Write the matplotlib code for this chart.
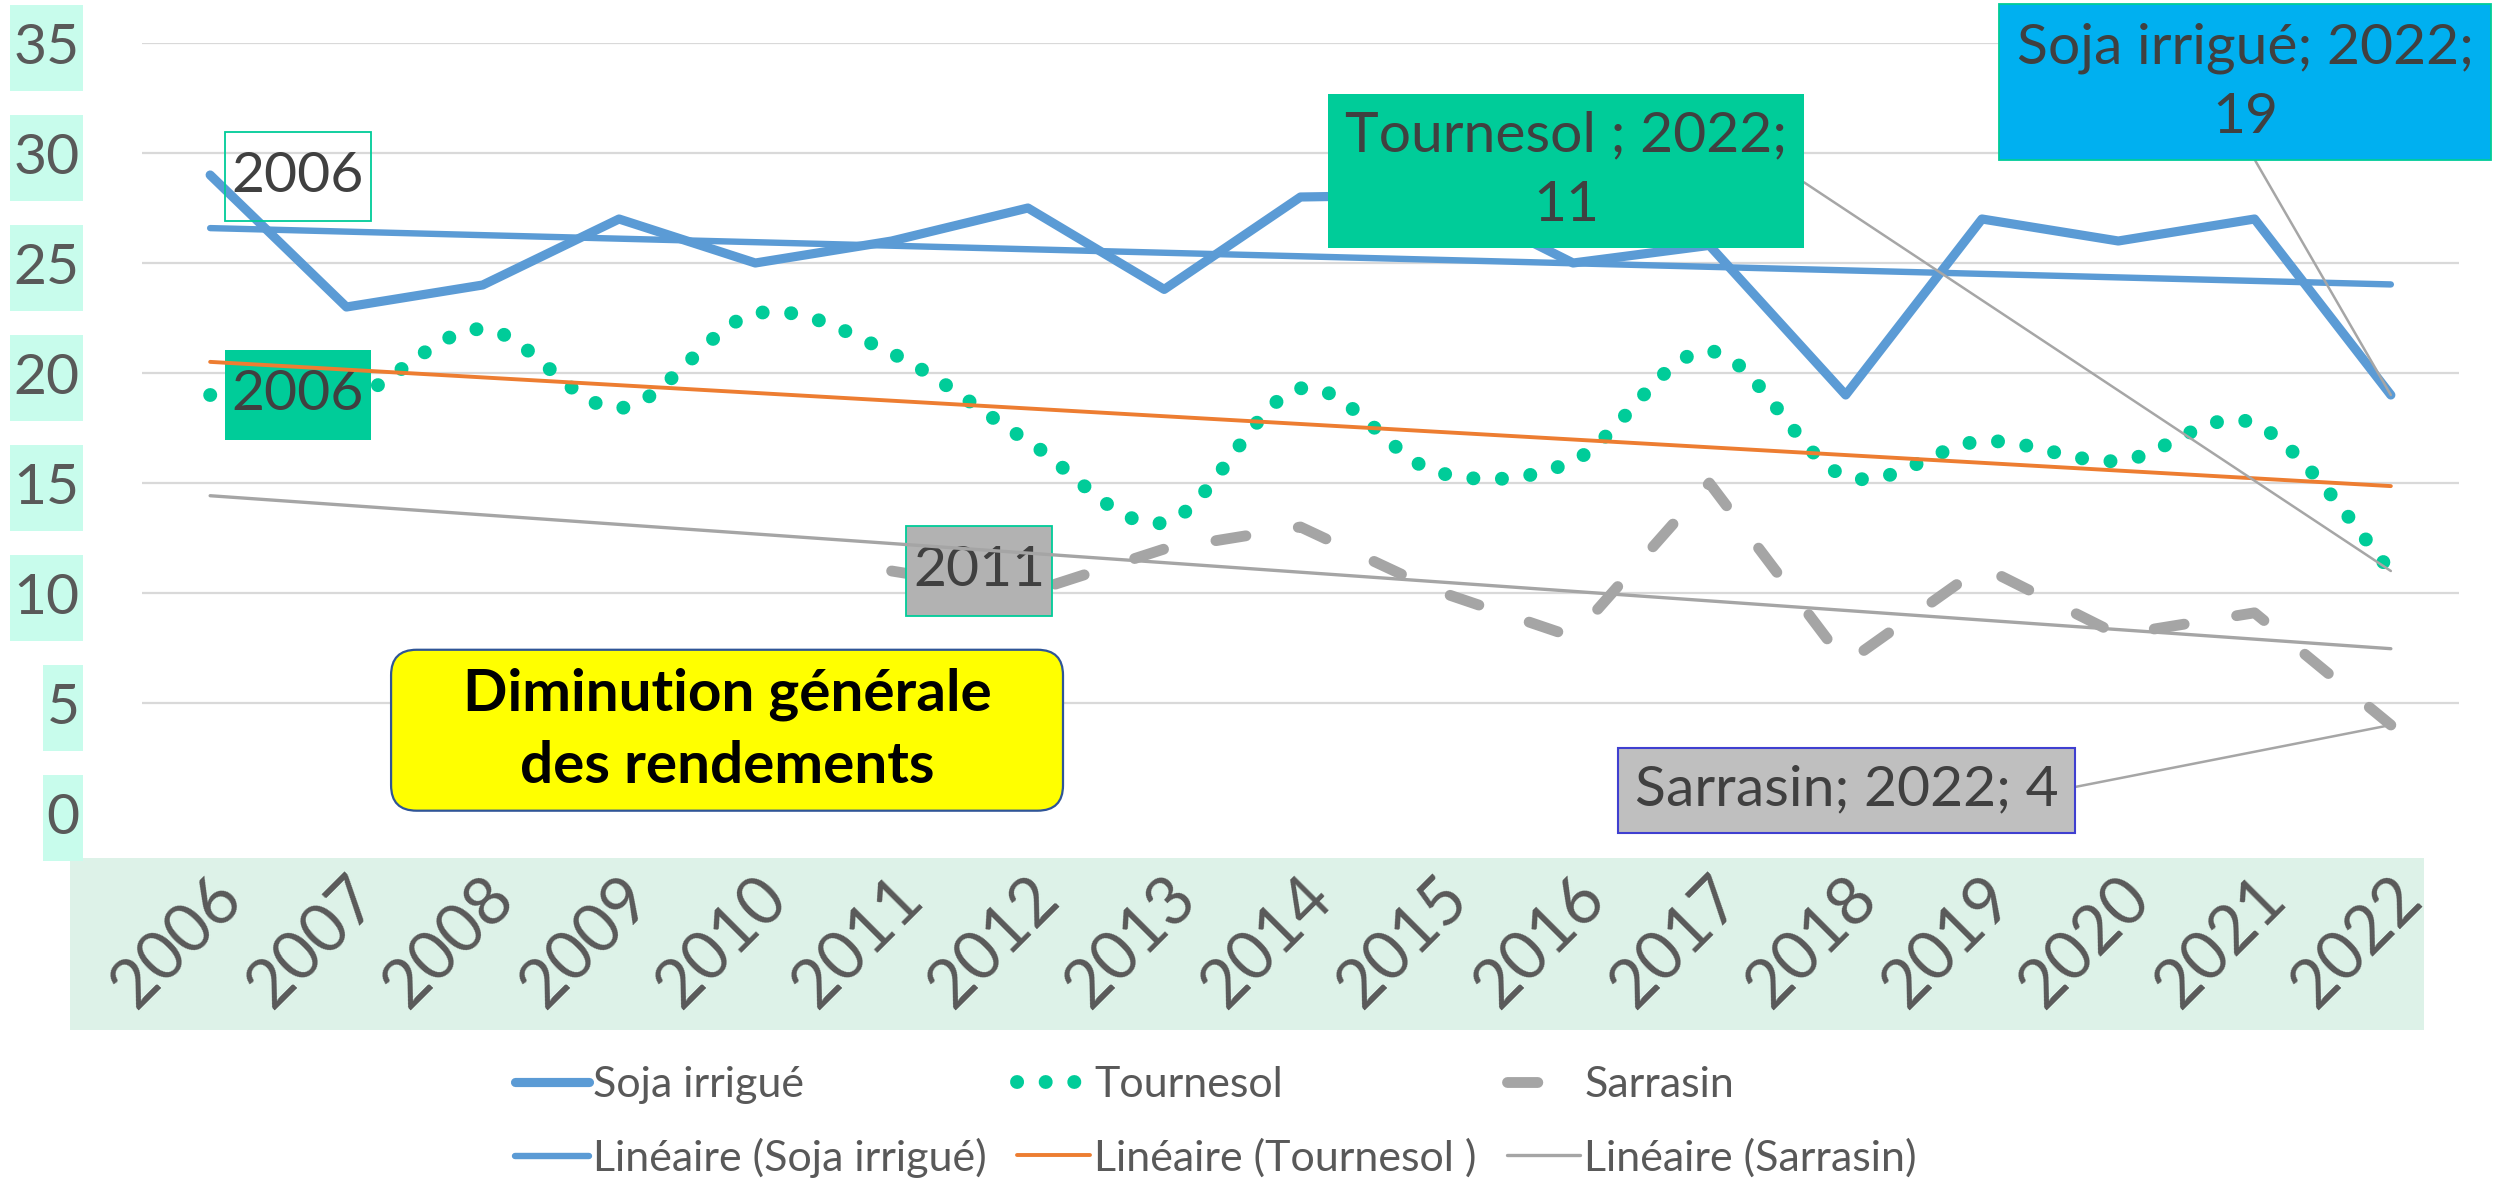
import numpy as np
import matplotlib
matplotlib.use("Agg")
import matplotlib.pyplot as plt
from matplotlib.lines import Line2D
from matplotlib.path import Path
from matplotlib.patches import PathPatch, Rectangle, FancyBboxPatch

plt.rcParams['font.family'] = ['Lato', 'DejaVu Sans']

# ---------------- data ---------------- #
years = [2006, 2007, 2008, 2009, 2010, 2011, 2012, 2013, 2014,
         2015, 2016, 2017, 2018, 2019, 2020, 2021, 2022]
soja = [29, 23, 24, 27, 25, 26, 27.5, 23.8, 28, 28.1, 25, 25.8, 19, 27, 26, 27, 19]
tournesol = [19, 18.8, 22, 18.4, 22.7, 20.9, 16.9, 13.2, 19.3, 15.5, 16, 21, 15.3, 16.9, 16, 17.7, 11]
sarrasin = [np.nan, np.nan, np.nan, np.nan, np.nan,
            11, 10, 12, 13, 10.1, 8, 15, 6.8, 11.2, 8.1, 9.1, 4]
names = ["Soja irrigué", "Tournesol ", "Sarrasin"]

# ---------------- colours ---------------- #
C_SOJA = "#5B9BD5"
C_TOURN = "#00CC99"
C_SARR = "#A5A5A5"
C_ORANGE = "#ED7D31"
C_TXT = "#404040"
C_TICK = "#595959"

W, H = 2509, 1182
fig = plt.figure(figsize=(W / 100, H / 100), dpi=100)
ax = fig.add_axes([142 / W, (H - 813) / H, 2317 / W, 770 / H])

x = np.arange(len(years))

# band behind the category labels
fig.patches.append(Rectangle((70 / W, 152 / H), 2354 / W, 172 / H,
                             transform=fig.transFigure, facecolor="#DDF2E8",
                             edgecolor="none", zorder=-1))

# ---------------- series ---------------- #
l_soja, = ax.plot(x, soja, color=C_SOJA, lw=6.6, solid_joinstyle="round",
                  solid_capstyle="round", zorder=2)

# smoothed dotted line (Excel-like bezier smoothing)
pts = np.column_stack([x, tournesol]).astype(float)
verts = [pts[0]]
codes = [Path.MOVETO]
n = len(pts)
for i in range(n - 1):
    p_prev = pts[i - 1] if i > 0 else pts[i]
    p_next = pts[i + 2] if i + 2 < n else pts[i + 1]
    verts += [pts[i] + (pts[i + 1] - p_prev) / 6,
              pts[i + 1] - (p_next - pts[i]) / 6,
              pts[i + 1]]
    codes += [Path.CURVE4] * 3
dots = (0, (0.01, 2.05))
ax.add_patch(PathPatch(Path(verts, codes), fill=False, edgecolor=C_TOURN,
                       lw=10, linestyle=dots, capstyle="round", zorder=2))
l_tourn = Line2D([], [], color=C_TOURN, lw=10, linestyle=dots,
                 dash_capstyle="round")

l_sarr, = ax.plot(x, sarrasin, color=C_SARR, lw=7.8, linestyle=(0, (2.8, 4.9)),
                  dash_capstyle="round", zorder=2)

# ---------------- trend lines ---------------- #
trend_handles = []
for vals, col, lw in [(soja, C_SOJA, 4.6), (tournesol, C_ORANGE, 2.8), (sarrasin, C_SARR, 2.4)]:
    v = np.asarray(vals, dtype=float)
    ok = ~np.isnan(v)
    k, b = np.polyfit(x[ok], v[ok], 1)
    xe = np.array([x[0], x[-1]])
    h, = ax.plot(xe, k * xe + b, color=col, lw=lw, solid_capstyle="round", zorder=4)
    trend_handles.append(h)

# ---------------- data labels ---------------- #
first_box = dict(fontsize=41, color=C_TXT, ha="center", va="center",
                 textcoords="offset points", zorder=3)
ax.annotate(str(years[0]), xy=(0, soja[0]), xytext=(63, -1),
            bbox=dict(boxstyle="square,pad=0.12", mutation_aspect=2.8,
                      fc="none", ec=C_TOURN, lw=1.3), **first_box)
ax.annotate(str(years[0]), xy=(0, tournesol[0]), xytext=(63, 0),
            bbox=dict(boxstyle="square,pad=0.12", mutation_aspect=2.8,
                      fc=C_TOURN, ec="none"), **first_box)
i0 = int(np.where(~np.isnan(sarrasin))[0][0])
ax.annotate(str(years[i0]), xy=(i0, sarrasin[i0]), xytext=(63, 0),
            bbox=dict(boxstyle="square,pad=0.12", mutation_aspect=2.8,
                      fc="#B2B2B2", ec=C_TOURN, lw=1.3), **first_box)

last = len(years) - 1
lead = dict(arrowstyle="-", color="#A6A6A6", lw=1.8, shrinkA=0, shrinkB=0)
ax.annotate(f"{names[0]}; {years[last]};\n{soja[last]:g}", xy=(last, soja[last]),
            xytext=(-105, 225), textcoords="offset points", ha="center", va="center",
            fontsize=41, color=C_TXT, zorder=5, annotation_clip=False, linespacing=1.45,
            bbox=dict(boxstyle="square,pad=0.3", fc="#00B0F0", ec=C_TOURN, lw=1.3),
            arrowprops=dict(relpos=(0.5, 0), **lead))
ax.annotate(f"{names[1]}; {years[last]};\n{tournesol[last]:g}", xy=(last, tournesol[last]),
            xytext=(-594, 288), textcoords="offset points", ha="center", va="center",
            fontsize=41, color=C_TXT, zorder=5, linespacing=1.45,
            bbox=dict(boxstyle="square,pad=0.3", fc=C_TOURN, ec="none"),
            arrowprops=dict(relpos=(1, 0.5), **lead))
ax.annotate(f"{names[2]}; {years[last]}; {sarrasin[last]:g}", xy=(last, sarrasin[last]),
            xytext=(-392, -47), textcoords="offset points", ha="center", va="center",
            fontsize=41, color=C_TXT, zorder=5, annotation_clip=False,
            bbox=dict(boxstyle="square,pad=0.3", fc="#BFBFBF", ec="#3F3FD0", lw=1.5),
            arrowprops=dict(relpos=(1, 0.5), **lead))

# ---------------- note box ---------------- #
ax.add_patch(FancyBboxPatch((0.1075, 0.003), 0.29, 0.209, transform=ax.transAxes,
                            boxstyle="round,pad=0,rounding_size=0.011",
                            mutation_aspect=3.0, facecolor="#FFFF00",
                            edgecolor="#2F5597", lw=1.6, zorder=6))
ax.text(0.1075 + 0.145, 0.003 + 0.1045, "Diminution générale\ndes rendements",
        transform=ax.transAxes, ha="center", va="center", fontsize=42, linespacing=1.45,
        fontweight="bold", color="black", zorder=7)

# ---------------- axes ---------------- #
ax.set_xlim(-0.5, len(years) - 0.5)
ax.set_ylim(0, 35)
ax.set_yticks(range(0, 36, 5))
ax.set_xticks(x)
ax.set_xticklabels([str(y) for y in years], rotation=45, ha="right",
                   rotation_mode="anchor", fontsize=48, color=C_TICK)
ax.tick_params(axis="x", length=0, pad=38)
ax.tick_params(axis="y", length=0, pad=45, labelsize=41, labelcolor=C_TICK)
for lab in ax.get_yticklabels():
    lab.set_bbox(dict(boxstyle="square,pad=0.06", mutation_aspect=5,
                      facecolor="#C8FCEC", edgecolor="none"))
ax.yaxis.grid(True, color="#D9D9D9", lw=1.6)
ax.get_ygridlines()[0].set_visible(False)
ax.set_axisbelow(True)
for s in ax.spines.values():
    s.set_visible(False)

# ---------------- legend ---------------- #
handles = [l_soja, trend_handles[0], l_tourn, trend_handles[1], l_sarr, trend_handles[2]]
labels = [names[0], f"Linéaire ({names[0]})", names[1].strip(), f"Linéaire ({names[1]})",
          names[2], f"Linéaire ({names[2]})"]
fig.legend(handles, labels, ncol=3, loc="center", bbox_to_anchor=(0.4847, 0.0505),
           frameon=False, fontsize=31, handlelength=1.7, handletextpad=0.1,
           columnspacing=0.7, labelspacing=0.78, labelcolor=C_TICK)

fig.savefig("out.png", dpi=100)
